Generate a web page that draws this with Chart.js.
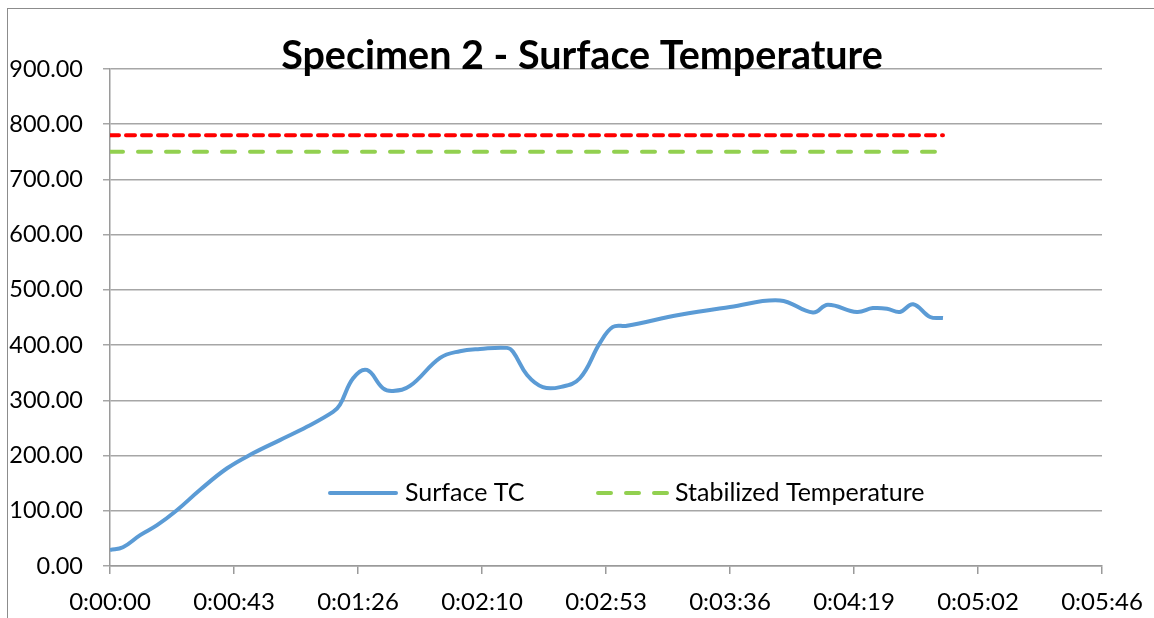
<!DOCTYPE html>
<html>
<head>
<meta charset="utf-8">
<script src="https://cdn.jsdelivr.net/npm/chart.js@4.4.1/dist/chart.umd.min.js"></script>
<style>
  body { margin: 0; background: #fff; }
  #wrap { position: relative; width: 1154px; height: 618px; }
  #frame { position: absolute; left: 7px; top: 8px; right: 0; bottom: 0;
           border-left: 1px solid #8c8c8c; border-top: 1px solid #8c8c8c; pointer-events: none; }
</style>
</head>
<body>
<div id="wrap">
  <canvas id="chart" width="1154" height="618"></canvas>
  <div id="frame"></div>
</div>
<script>
// time in seconds
var timeSec = [0, 4.5, 10.5, 16.4, 23.3, 31.4, 40.8, 49.8, 59.2, 68.6, 77.7, 80.1, 84.7, 89.5,
  95.1, 98.6, 104.5, 115.0, 121.9, 128.9, 138.3, 140.4, 145.3, 150.8, 156.8, 163.7, 170.7,
  175.2, 180.1, 198.6, 216.0, 233.4, 244.9, 250.1, 260.2, 265.8, 270.7, 275.2, 279.8, 285.7, 290.2];
var surfaceTC = [29, 34, 56, 74, 101, 138, 177, 204, 228, 252, 279, 292, 340, 355,
  322, 317, 326, 377, 389, 393, 395, 388, 346, 324, 324, 340, 404,
  433, 435, 455, 469, 481, 459, 473, 460, 467, 466, 460, 474, 451, 449];

var stabTime = [0, 287.4];
var stabTemp = [750, 750];
var targetTime = [0, 290.2];
var targetTemp = [780, 780];

var xTicks = [0, 43.2, 86.4, 129.6, 172.8, 216, 259.2, 302.4, 345.6];
var yTicks = [0, 100, 200, 300, 400, 500, 600, 700, 800, 900];

var FONT = "Lato";

function pts(xs, ys) {
  return xs.map(function (x, i) { return { x: x, y: ys[i] }; });
}

function fmtTime(s) {
  s = Math.round(s);
  var h = Math.floor(s / 3600), m = Math.floor((s % 3600) / 60), sec = s % 60;
  return h + ":" + String(m).padStart(2, "0") + ":" + String(sec).padStart(2, "0");
}

// title drawn over the top gridline like the original
var titlePlugin = {
  id: "titleOver",
  afterDraw: function (chart) {
    var ctx = chart.ctx;
    ctx.save();
    ctx.font = "bold 39.5px " + FONT;
    ctx.fillStyle = "#000";
    ctx.textAlign = "center";
    ctx.textBaseline = "middle";
    ctx.fillText("Specimen 2 - Surface Temperature", 582, 56);
    ctx.restore();
  }
};

// legend sits inside the plot, only two entries
var legendPlugin = {
  id: "innerLegend",
  afterDraw: function (chart) {
    var ctx = chart.ctx;
    var items = [
      { ds: chart.data.datasets[0], x1: 330, x2: 396, tx: 405 },
      { ds: chart.data.datasets[1], x1: 598, x2: 668, tx: 675 }
    ];
    var y = 493;
    ctx.save();
    items.forEach(function (it) {
      ctx.beginPath();
      ctx.strokeStyle = it.ds.borderColor;
      ctx.lineWidth = it.ds.borderWidth;
      ctx.lineCap = "round";
      ctx.setLineDash(it.ds.borderDash || []);
      ctx.moveTo(it.x1, y);
      ctx.lineTo(it.x2, y);
      ctx.stroke();
      ctx.setLineDash([]);
      ctx.fillStyle = "#000";
      ctx.font = "25px " + FONT;
      ctx.textBaseline = "middle";
      ctx.textAlign = "left";
      ctx.fillText(it.ds.label, it.tx, y);
    });
    ctx.restore();
  }
};

new Chart(document.getElementById("chart"), {
  type: "line",
  data: {
    datasets: [
      {
        label: "Surface TC",
        data: pts(timeSec, surfaceTC),
        borderColor: "#5b9bd5",
        borderWidth: 4,
        pointRadius: 0,
        tension: 0.4
      },
      {
        label: "Stabilized Temperature",
        data: pts(stabTime, stabTemp),
        borderColor: "#92d050",
        borderWidth: 4,
        borderDash: [13, 15],
        borderCapStyle: "round",
        pointRadius: 0
      },
      {
        label: "Target Temperature",
        data: pts(targetTime, targetTemp),
        borderColor: "#ff0000",
        borderWidth: 4,
        borderDash: [9, 7],
        borderCapStyle: "round",
        pointRadius: 0
      }
    ]
  },
  options: {
    responsive: false,
    animation: false,
    layout: { padding: { top: 69, left: 0, right: 52, bottom: 0 } },
    plugins: {
      legend: { display: false },
      title: { display: false },
      tooltip: { enabled: false }
    },
    scales: {
      x: {
        type: "linear",
        min: 0,
        max: 345.6,
        afterBuildTicks: function (scale) {
          scale.ticks = xTicks.map(function (v) { return { value: v }; });
        },
        afterFit: function (scale) {
          scale.height = 52;
          scale.paddingLeft = 0;
          scale.paddingRight = 0;
        },
        border: { color: "#9a9a9a", width: 1.5 },
        grid: { drawOnChartArea: false, color: "#9a9a9a", tickLength: 8, lineWidth: 1.5 },
        ticks: {
          color: "#000",
          font: { family: FONT, size: 24 },
          padding: 14,
          maxRotation: 0,
          callback: function (v) { return fmtTime(v); }
        }
      },
      y: {
        min: 0,
        max: 900,
        afterBuildTicks: function (scale) {
          scale.ticks = yTicks.map(function (v) { return { value: v }; });
        },
        afterFit: function (scale) { scale.width = 110; },
        border: { color: "#9a9a9a", width: 1.5 },
        grid: { color: "#a6a6a6", tickLength: 7, lineWidth: 1.5 },
        ticks: {
          color: "#000",
          font: { family: FONT, size: 23.5 },
          padding: 20,
          callback: function (v) { return v.toFixed(2); }
        }
      }
    }
  },
  plugins: [titlePlugin, legendPlugin]
});
</script>
</body>
</html>
